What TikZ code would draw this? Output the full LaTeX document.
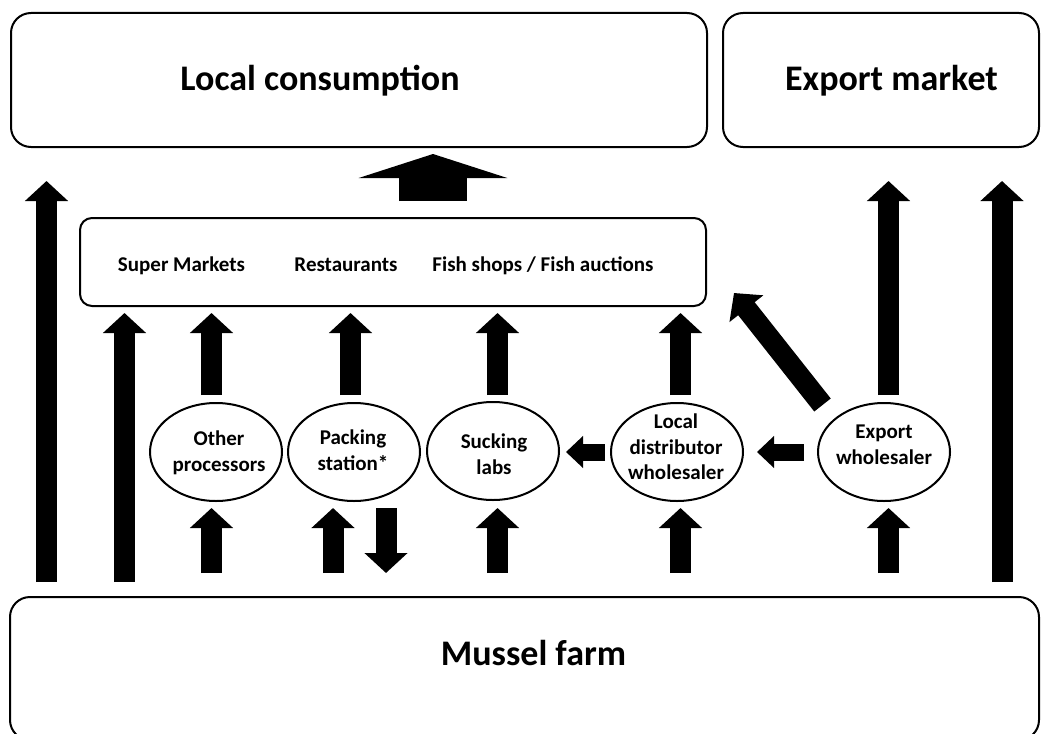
\documentclass[tikz,border=0pt]{standalone}
\usepackage{fontspec}
\setmainfont{Carlito}
\usetikzlibrary{arrows.meta,shapes.geometric,calc}
\begin{document}
\begin{tikzpicture}[x=1pt,y=-1pt,
  box/.style={draw, line width=2pt, rounded corners=20pt, inner sep=0pt},
  oval/.style={draw, ellipse, line width=2pt, minimum width=132pt, minimum height=98pt, inner sep=0pt},
  ovaltxt/.style={align=center, inner sep=0pt, font=\fontsize{21}{25.5}\selectfont\bfseries},
  bigtxt/.style={font=\fontsize{36}{40}\selectfont\bfseries, anchor=base, inner sep=0pt},
  smalltxt/.style={font=\fontsize{21}{25}\selectfont\bfseries, anchor=base, inner sep=0pt},
  blk/.style={line width=21pt, -{Triangle[width=42pt,length=20pt]}},
  hblk/.style={line width=17pt, -{Triangle[width=31pt,length=17pt]}},
  bigblk/.style={line width=68pt, -{Triangle[width=148pt,length=24pt]}}
]
\useasboundingbox (0,0) rectangle (1043,733);

% boxes
\node[box, minimum width=696pt, minimum height=134pt] (lc) at (359,80) {};
\node[box, minimum width=316pt, minimum height=134pt] (em) at (881,80) {};
\node[box, rounded corners=12pt, minimum width=626pt, minimum height=88pt] (mid) at (393,262) {};
\node[box, minimum width=1029pt, minimum height=143pt] (farm) at (524.5,668.5) {};

% box texts
\node[bigtxt] (lctxt) at (320,91) {Local consumption};
\node[bigtxt] (emtxt) at (891.5,91) {Export market};
\node[bigtxt] (farmtxt) at (533.5,665) {Mussel farm};
\node[smalltxt] (smtxt) at (181.5,271) {Super Markets};
\node[smalltxt] (resttxt) at (346,271) {Restaurants};
\node[smalltxt] (fishtxt) at (543,271) {Fish shops / Fish auctions};

% ellipses
\node[oval] (op) at (216,452) {};
\node[oval] (ps) at (354,452) {};
\node[oval] (sl) at (493,451) {};
\node[oval] (ld) at (677,452) {};
\node[oval] (ew) at (884,452) {};
\node[ovaltxt] (optxt) at (219,453) {Other\\processors};
\node[ovaltxt] (pstxt) at (353,450) {Packing\\station*};
\node[ovaltxt] (sltxt) at (494,454) {Sucking\\labs};
\node[ovaltxt] (ldtxt) at (676,447) {Local\\distributor\\wholesaler};
\node[ovaltxt] (ewtxt) at (884,445) {Export\\wholesaler};

% farm -> ellipses
\draw[blk] ($(op.south|-farm.north)+(-4.5,-23)$) -- ($(op.south)+(-4.5,6)$);
\draw[blk] ($(ps.south|-farm.north)+(-21,-23)$) -- ($(ps.south)+(-21,6)$);
\draw[blk] ($(ps.south)+(32,6)$) -- ($(ps.south|-farm.north)+(32,-23)$);
\draw[blk] ($(sl.south|-farm.north)+(4.5,-23)$) -- ($(sl.south)+(4.5,7)$);
\draw[blk] ($(ld.south|-farm.north)+(3.5,-23)$) -- ($(ld.south)+(3.5,6)$);
\draw[blk] ($(ew.south|-farm.north)+(4.5,-23)$) -- ($(ew.south)+(4.5,6)$);

% ellipses -> middle box
\draw[blk] ($(op.north)+(-4.5,-7)$) -- ($(op.north|-mid.south)+(-4.5,6)$);
\draw[blk] ($(ps.north)+(-3.5,-7)$) -- ($(ps.north|-mid.south)+(-3.5,6)$);
\draw[blk] ($(sl.north)+(4.5,-6)$) -- ($(sl.north|-mid.south)+(4.5,6)$);
\draw[blk] ($(ld.north)+(3.5,-7)$) -- ($(ld.north|-mid.south)+(3.5,6)$);

% export wholesaler -> export market
\draw[blk] ($(ew.north)+(4.5,-7)$) -- ($(ew.north|-em.south)+(4.5,33)$);

% long arrows from farm
\draw[blk] ($(farm.north west)+(37.5,-14)$) -- ($(lc.south west)+(36.5,33)$);
\draw[blk] ($(farm.north west)+(115.5,-14)$) -- ($(mid.south west)+(45.5,6)$);
\draw[blk] ($(farm.north east)+(-38,-14)$) -- ($(em.south east)+(-38,33)$);

% middle box -> local consumption
\draw[bigblk] ($(mid.north)+(40,-16)$) -- ($(mid.north|-lc.south)+(40,6)$);

% horizontal arrows
\draw[hblk] ($(ld.west)+(-5,0)$) -- ($(ld.west-|sl.east)+(6,0)$);
\draw[hblk] ($(ew.west)+(-13,0)$) -- ($(ew.west-|ld.east)+(13,0)$);

% diagonal
\draw[blk] ($(ew.center)+(-61.5,-47)$) -- ($(mid.south east)+(27,-14)$);
\end{tikzpicture}
\end{document}
